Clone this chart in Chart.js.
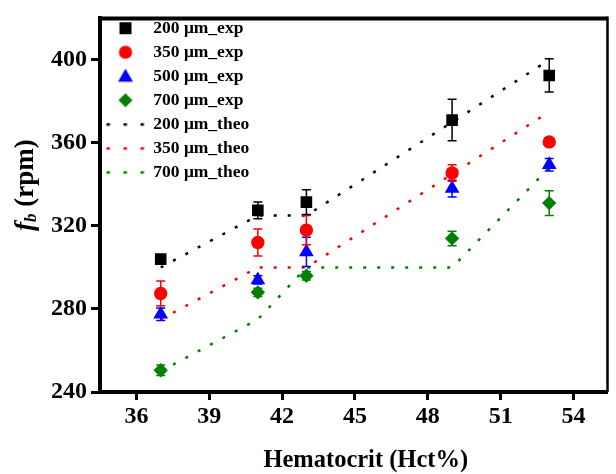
<html>
  <head>
    <meta charset="utf-8">
    <title>fb vs hematocrit</title>
    <script src="https://cdn.jsdelivr.net/npm/chart.js@4.4.0/dist/chart.umd.min.js"></script>
    <style>
      body { margin: 0; background: #fff; }
      #wrap { width: 616px; height: 474px; }
    </style>
  </head>
  <body>
    <div id="wrap"><canvas id="myChart"></canvas></div>
    <script type="text/javascript">
      // hematocrit levels of the measurements
      const hct = [37, 41, 43, 49, 53];
      // measured fb (rpm) and error bars, per channel width
      const exp200 = [304, 327.5, 331.5, 371, 392.5];
      const err200 = [2, 4, 6, 10, 8];
      const exp350 = [287.5, 312, 318, 345.5, 360.5];
      const err350 = [6, 6.5, 7, 4, 1.5];
      const exp500 = [277.5, 294, 307.5, 338, 349.5];
      const err500 = [3, 2, 7, 4, 3];
      const exp700 = [250.5, 288, 296, 314, 331];
      const err700 = [2.5, 2, 2, 3.5, 6];
      // theory curves
      const theoHct = [37, 41, 43, 49, 53];
      const theo200 = [300, 325, 325, 370, 400];
      const theo350 = [275, 300, 300, 345, 375];
      const theo700 = [250, 275, 300, 300, 348];
      // axis ticks
      const xTicks = [36, 39, 42, 45, 48, 51, 54];
      const yTicks = [240, 280, 320, 360, 400];

      const FONT = 'Liberation Serif, Times New Roman, serif';
      const BLACK = '#000000', RED = '#ff0000', BLUE = '#0000ff', GREEN = '#008000';

      function pts(xs, ys) {
        return ys.map((v, i) => ({x: xs[i], y: v}));
      }

      // small canvases used as legend symbols
      function icon(kind, color) {
        const c = document.createElement('canvas');
        const w = kind === 'dots' ? 40 : 18;
        c.width = w; c.height = 18;
        const g = c.getContext('2d');
        g.fillStyle = color;
        g.beginPath();
        if (kind === 'rect') {
          g.rect(3, 3, 12, 12);
        } else if (kind === 'circle') {
          g.arc(9, 9, 6.6, 0, Math.PI * 2);
        } else if (kind === 'triangle') {
          g.moveTo(9, 1.5); g.lineTo(16.5, 14.5); g.lineTo(1.5, 14.5);
        } else if (kind === 'diamond') {
          g.moveTo(9, 2); g.lineTo(16, 9); g.lineTo(9, 16); g.lineTo(2, 9);
        } else {
          for (let i = 0; i < 3; i++) g.rect(1 + i * 17, 8, 3.5, 2.5);
        }
        g.closePath();
        g.fill();
        return c;
      }

      function expSet(label, data, errors, color, style, radius) {
        return {
          label: label,
          data: pts(hct, data),
          errors: errors,
          showLine: false,
          pointStyle: style,
          pointRadius: radius,
          pointHoverRadius: radius,
          pointBackgroundColor: color,
          pointBorderColor: color,
          pointBorderWidth: 0,
          borderColor: color,
          backgroundColor: color,
          legendIcon: icon(style === 'rectRot' ? 'diamond' : style, color)
        };
      }

      function theoSet(label, data, color) {
        return {
          label: label,
          data: pts(theoHct, data),
          showLine: true,
          borderColor: color,
          backgroundColor: color,
          borderWidth: 2.5,
          borderDash: [3, 11],
          pointRadius: 0,
          tension: 0,
          legendIcon: icon('dots', color)
        };
      }

      // error bars, drawn just under each dataset's markers
      const errorBars = {
        id: 'errorBars',
        beforeDatasetDraw(chart, args) {
          const ds = chart.data.datasets[args.index];
          if (!ds.errors) return;
          const ctx = chart.ctx, xs = chart.scales.x, ys = chart.scales.y;
          ctx.save();
          ctx.strokeStyle = ds.borderColor;
          ctx.lineWidth = 1.5;
          ds.data.forEach((p, i) => {
            const e = ds.errors[i];
            const px = xs.getPixelForValue(p.x);
            const top = ys.getPixelForValue(p.y + e);
            const bot = ys.getPixelForValue(p.y - e);
            ctx.beginPath();
            ctx.moveTo(px, top); ctx.lineTo(px, bot);
            ctx.moveTo(px - 4.5, top); ctx.lineTo(px + 4.5, top);
            ctx.moveTo(px - 4.5, bot); ctx.lineTo(px + 4.5, bot);
            ctx.stroke();
          });
          ctx.restore();
        }
      };

      // top/right frame, x title, and the y title with italic f and subscript b
      const frame = {
        id: 'frame',
        afterDraw(chart) {
          const ctx = chart.ctx, a = chart.chartArea;
          ctx.save();
          ctx.strokeStyle = '#000';
          ctx.lineWidth = 4;
          ctx.beginPath();
          ctx.moveTo(a.left, a.top); ctx.lineTo(a.right, a.top);
          ctx.stroke();
          ctx.lineWidth = 2.5;
          ctx.beginPath();
          ctx.moveTo(a.right, a.top - 2); ctx.lineTo(a.right, a.bottom);
          ctx.stroke();

          ctx.fillStyle = '#000';
          ctx.textAlign = 'center';
          ctx.textBaseline = 'middle';
          ctx.font = 'bold 24.5px ' + FONT;
          ctx.fillText('Hematocrit (Hct%)', (a.left + a.right) / 2 + 12, 461);

          const parts = [
            {t: 'f', f: 'italic bold 27px ' + FONT, dy: 0},
            {t: 'b', f: 'italic bold 17px ' + FONT, dy: 6},
            {t: ' (rpm)', f: 'bold 27px ' + FONT, dy: 0}
          ];
          let total = 0;
          parts.forEach(p => { ctx.font = p.f; p.w = ctx.measureText(p.t).width; total += p.w; });
          ctx.translate(26, (a.top + a.bottom) / 2 - 20);
          ctx.rotate(-Math.PI / 2);
          ctx.textAlign = 'left';
          let x = -total / 2;
          parts.forEach(p => {
            ctx.font = p.f;
            ctx.fillText(p.t, x, p.dy);
            x += p.w;
          });
          ctx.restore();
        }
      };

      const ctx = document.getElementById('myChart').getContext('2d');
      const chart = new Chart(ctx, {
        type: 'scatter',
        data: {
          datasets: [
            expSet('200 \u03bcm_exp', exp200, err200, BLACK, 'rect', 8.2),
            expSet('350 \u03bcm_exp', exp350, err350, RED, 'circle', 6.7),
            expSet('500 \u03bcm_exp', exp500, err500, BLUE, 'triangle', 8.5),
            expSet('700 \u03bcm_exp', exp700, err700, GREEN, 'rectRot', 7.2),
            theoSet('200 \u03bcm_theo', theo200, BLACK),
            theoSet('350 \u03bcm_theo', theo350, RED),
            theoSet('700 \u03bcm_theo', theo700, GREEN)
          ]
        },
        options: {
          responsive: true,
          maintainAspectRatio: false,
          animation: false,
          layout: { padding: { left: 0, top: 12, right: 4, bottom: 0 } },
          plugins: {
            tooltip: { enabled: false },
            legend: {
              position: 'chartArea',
              align: 'start',
              title: { display: true, text: ' ', color: '#000', font: { size: 1, lineHeight: 1 }, padding: { top: 12, bottom: 0 } },
              labels: {
                usePointStyle: true,
                pointStyleWidth: 38,
                padding: 6.5,
                color: '#000',
                font: { family: FONT, size: 17.5, weight: 'bold' },
                generateLabels(ch) {
                  return ch.data.datasets.map((ds, i) => ({
                    text: ds.label,
                    fontColor: '#000',
                    pointStyle: ds.legendIcon,
                    fillStyle: ds.borderColor,
                    strokeStyle: ds.borderColor,
                    lineWidth: 0,
                    hidden: false,
                    datasetIndex: i
                  }));
                }
              }
            }
          },
          scales: {
            x: {
              type: 'linear',
              min: 34.5,
              max: 55.4,
              afterFit(s) { s.height = 82; },
              afterBuildTicks(s) { s.ticks = xTicks.map(v => ({value: v})); },
              border: { display: true, color: '#000', width: 4 },
              grid: { drawOnChartArea: false, drawTicks: true, tickLength: 8, tickWidth: 3, tickColor: '#000' },
              ticks: { color: '#000', padding: 2, font: { family: FONT, size: 24, weight: 'bold' } }
            },
            y: {
              type: 'linear',
              min: 240,
              max: 420,
              afterFit(s) { s.width = 100; },
              afterBuildTicks(s) { s.ticks = yTicks.map(v => ({value: v})); },
              border: { display: true, color: '#000', width: 4 },
              grid: { drawOnChartArea: false, drawTicks: true, tickLength: 9, tickWidth: 3, tickColor: '#000' },
              ticks: { color: '#000', padding: 4, font: { family: FONT, size: 24, weight: 'bold' } }
            }
          }
        },
        plugins: [errorBars, frame]
      });
    </script>
  </body>
</html>
